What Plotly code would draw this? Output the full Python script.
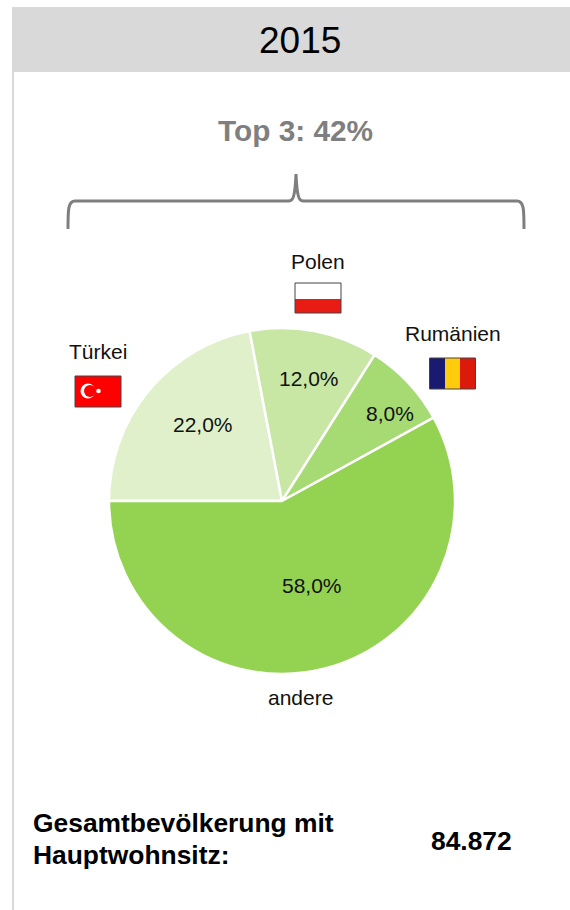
import plotly.graph_objects as go

W, H = 570, 910
categories = ["Türkei", "Polen", "Rumänien", "andere"]
values = [22.0, 12.0, 8.0, 58.0]
colors = ["#dff0cb", "#c8e6a4", "#a6da73", "#94d352"]
year = "2015"
top3 = "Top 3: 42%"
total_label = ["Gesamtbevölkerung mit", "Hauptwohnsitz:"]
total_value = "84.872"

def X(p): return p / W
def Y(p): return 1 - p / H

cx, cy, r = 282, 501, 173

fig = go.Figure(go.Pie(
    labels=categories, values=values, sort=False, direction="clockwise", rotation=270,
    marker=dict(colors=colors, line=dict(color="white", width=2.5)),
    textinfo="none",
    hoverinfo="label+value", showlegend=False,
    domain=dict(x=[X(cx - r), X(cx + r)], y=[Y(cy + r), Y(cy - r)]),
))

shapes = []
def rect(x0, y0, x1, y1, fill, line=None, lw=0):
    shapes.append(dict(type="rect", xref="paper", yref="paper", x0=X(x0), x1=X(x1), y0=Y(y0), y1=Y(y1),
                       fillcolor=fill, line=dict(color=line or fill, width=lw), layer="above"))

rect(12, 7, 570, 72, "#d9d9d9")
rect(12, 72, 14, 910, "#d9d9d9")

brace = (f"M {X(68)} {Y(229)} C {X(68)} {Y(210)} {X(68)} {Y(201)} {X(75)} {Y(201)} "
         f"L {X(289)} {Y(201)} C {X(293)} {Y(201)} {X(295)} {Y(197)} {X(296)} {Y(174)} "
         f"C {X(297)} {Y(197)} {X(299)} {Y(201)} {X(303)} {Y(201)} "
         f"L {X(517)} {Y(201)} C {X(524)} {Y(201)} {X(524)} {Y(210)} {X(524)} {Y(229)}")
shapes.append(dict(type="path", xref="paper", yref="paper", path=brace,
                   line=dict(color="#7f7f7f", width=3), layer="above"))

# Flags
# Turkey
rect(75, 376, 121, 407, "#ff0000", "#444444", 1)
def circle(xc, yc, rad, fill):
    shapes.append(dict(type="circle", xref="paper", yref="paper", x0=X(xc - rad), x1=X(xc + rad),
                       y0=Y(yc + rad), y1=Y(yc - rad), fillcolor=fill, line=dict(width=0), layer="above"))
circle(88, 391, 7.5, "white")
circle(90, 391, 6, "#ff0000")
circle(98.5, 391, 2.3, "white")
# Poland
rect(295, 283, 341, 299, "white")
rect(295, 299, 341, 313, "#e81c14")
rect(295, 283, 341, 313, "rgba(0,0,0,0)", "#444444", 1)
# Romania
rect(430, 358, 445, 389, "#1a1a70")
rect(445, 358, 460, 389, "#ffcb0d")
rect(460, 358, 475, 389, "#dc1a0c")
rect(429.5, 358, 475.5, 389, "rgba(0,0,0,0)", "#444444", 1)

def note(x, y, text, size, color="#111111", bold=False, align="center", xanchor="center"):
    return dict(x=X(x), y=Y(y), xref="paper", yref="paper", text=f"<b>{text}</b>" if bold else text,
                showarrow=False, xanchor=xanchor, yanchor="middle", align=align,
                font=dict(family="Liberation Sans", size=size, color=color))

def pct(v):
    return f"{v:.1f}%".replace(".", ",")

LS = 21
label_xy = [(98, 352), (317.5, 261), (452.5, 333), (300, 697)]
pct_xy = [(203, 424), (309, 378), (390, 414), (312, 585)]
annotations = [
    note(300, 41, year, 37, "black"),
    note(295, 131, top3, 29.8, "#7f7f7f", True),
    note(30.5, 823, total_label[0], 26.4, "black", bold=True, align="left", xanchor="left"),
    note(30.5, 855, total_label[1], 26.4, "black", bold=True, align="left", xanchor="left"),
    note(471.5, 841, total_value, 26.4, "black", bold=True),
]
for c, v, lxy, pxy in zip(categories, values, label_xy, pct_xy):
    annotations.append(note(lxy[0], lxy[1], c, LS))
    annotations.append(note(pxy[0], pxy[1], pct(v), LS))

fig.update_layout(width=W, height=H, margin=dict(l=0, r=0, t=0, b=0), autosize=False,
                  paper_bgcolor="white", shapes=shapes, annotations=annotations)
fig.write_html("out.html", config={"displayModeBar": False}, post_script="document.body.style.margin='0';")
